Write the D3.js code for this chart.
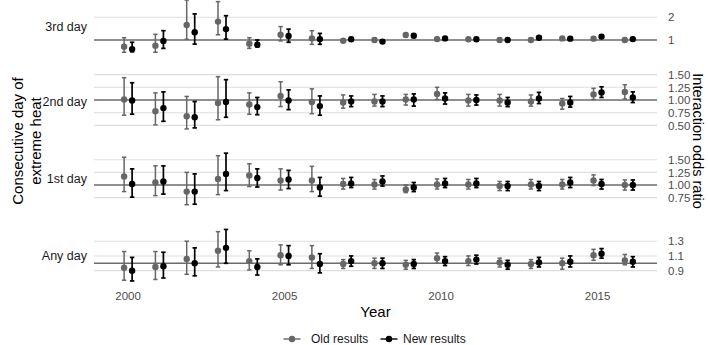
<!DOCTYPE html>
<html>
<head>
<meta charset="utf-8">
<script src="https://cdn.jsdelivr.net/npm/d3@7"></script>
<style>
  body { margin: 0; background: #fff; }
  svg { font-family: "Liberation Sans", Arial, sans-serif; }
</style>
</head>
<body>
<div id="chart"></div>
<script>
// Years on the x axis
const years = [2000, 2001, 2002, 2003, 2004, 2005, 2006, 2007, 2008,
  2009, 2010, 2011, 2012, 2013, 2014, 2015, 2016];

const seriesNames = ["Old results", "New results"];
const panelLabels = ["3rd day", "2nd day", "1st day", "Any day"];

// [estimate, lower, upper] per year
const old3rd = [
  [0.70, 0.46, 1.10], [0.75, 0.46, 1.25], [1.66, 1.03, 2.76], [1.81, 1.23, 2.69],
  [0.84, 0.63, 1.10], [1.23, 0.96, 1.59], [1.07, 0.81, 1.41], [0.97, 0.90, 1.05],
  [1.00, 0.93, 1.07], [1.22, 1.14, 1.30], [1.04, 0.97, 1.11], [1.03, 0.96, 1.10],
  [1.00, 0.93, 1.07], [1.00, 0.93, 1.07], [1.07, 1.00, 1.14], [1.06, 0.99, 1.13],
  [1.00, 0.93, 1.07]
];
const new3rd = [
  [0.60, 0.48, 0.90], [0.96, 0.63, 1.41], [1.34, 0.82, 2.15], [1.48, 1.04, 2.07],
  [0.79, 0.70, 1.00], [1.18, 0.90, 1.48], [1.04, 0.81, 1.29], [1.03, 0.96, 1.10],
  [0.93, 0.87, 1.00], [1.19, 1.12, 1.27], [1.07, 1.00, 1.14], [1.03, 0.96, 1.10],
  [1.00, 0.94, 1.06], [1.10, 1.03, 1.17], [1.06, 0.99, 1.13], [1.15, 1.08, 1.22],
  [1.04, 0.97, 1.11]
];
const old2nd = [
  [1.01, 0.70, 1.44], [0.78, 0.51, 1.14], [0.68, 0.43, 1.07], [0.94, 0.61, 1.46],
  [0.91, 0.72, 1.14], [1.08, 0.87, 1.36], [0.96, 0.73, 1.22], [0.95, 0.84, 1.10],
  [0.97, 0.88, 1.11], [1.01, 0.90, 1.11], [1.12, 1.01, 1.25], [0.99, 0.88, 1.11],
  [0.99, 0.88, 1.11], [0.97, 0.88, 1.10], [0.93, 0.82, 1.03], [1.11, 1.01, 1.23],
  [1.16, 1.02, 1.30]
];
const new2nd = [
  [0.99, 0.72, 1.34], [0.84, 0.58, 1.16], [0.66, 0.45, 0.97], [0.96, 0.66, 1.40],
  [0.86, 0.71, 1.05], [0.99, 0.81, 1.20], [0.88, 0.70, 1.08], [0.97, 0.87, 1.08],
  [0.97, 0.87, 1.08], [1.01, 0.88, 1.12], [1.03, 0.92, 1.14], [1.00, 0.90, 1.10],
  [0.95, 0.87, 1.05], [1.03, 0.93, 1.15], [0.95, 0.86, 1.07], [1.15, 1.05, 1.26],
  [1.05, 0.95, 1.16]
];
const old1st = [
  [1.17, 0.87, 1.55], [1.05, 0.79, 1.38], [0.87, 0.61, 1.25], [1.12, 0.81, 1.58],
  [1.19, 0.97, 1.42], [1.09, 0.90, 1.32], [1.09, 0.87, 1.37], [1.02, 0.92, 1.13],
  [1.01, 0.92, 1.11], [0.91, 0.85, 1.00], [1.01, 0.92, 1.12], [1.01, 0.92, 1.11],
  [0.98, 0.89, 1.07], [1.01, 0.92, 1.11], [1.01, 0.92, 1.11], [1.09, 0.99, 1.20],
  [1.00, 0.90, 1.10]
];
const new1st = [
  [1.02, 0.76, 1.32], [1.07, 0.82, 1.38], [0.87, 0.62, 1.22], [1.22, 0.89, 1.63],
  [1.14, 0.96, 1.32], [1.11, 0.93, 1.29], [0.95, 0.78, 1.15], [1.03, 0.95, 1.15],
  [1.07, 0.98, 1.18], [0.95, 0.87, 1.05], [1.03, 0.95, 1.13], [1.03, 0.95, 1.13],
  [0.98, 0.89, 1.07], [0.98, 0.89, 1.07], [1.05, 0.95, 1.15], [1.02, 0.92, 1.11],
  [1.00, 0.90, 1.10]
];
const oldAny = [
  [0.94, 0.77, 1.16], [0.95, 0.78, 1.16], [1.06, 0.85, 1.30], [1.17, 0.95, 1.43],
  [1.03, 0.91, 1.17], [1.11, 0.98, 1.25], [1.08, 0.93, 1.24], [0.99, 0.93, 1.05],
  [1.00, 0.93, 1.07], [0.98, 0.92, 1.04], [1.07, 1.00, 1.14], [1.03, 0.97, 1.10],
  [1.01, 0.95, 1.07], [0.99, 0.93, 1.05], [1.00, 0.92, 1.07], [1.11, 1.04, 1.19],
  [1.04, 0.98, 1.12]
];
const newAny = [
  [0.90, 0.76, 1.08], [0.96, 0.80, 1.15], [1.00, 0.83, 1.21], [1.21, 1.00, 1.46],
  [0.95, 0.84, 1.06], [1.10, 0.98, 1.24], [0.99, 0.87, 1.13], [1.03, 0.96, 1.10],
  [1.00, 0.93, 1.07], [0.99, 0.93, 1.05], [1.03, 0.97, 1.09], [1.05, 0.99, 1.11],
  [0.98, 0.92, 1.04], [1.01, 0.95, 1.08], [1.02, 0.95, 1.10], [1.13, 1.07, 1.20],
  [1.02, 0.95, 1.09]
];

// Right axis breaks per panel
const ticks3rd = [1, 2];
const ticks2nd = [0.5, 0.75, 1, 1.25, 1.5];
const ticks1st = [0.75, 1, 1.25, 1.5];
const ticksAny = [0.9, 1.1, 1.3];
const xTicks = [2000, 2005, 2010, 2015];

const width = 708;
const height = 345;
const plot = { left: 94, right: 657 };
const panelHeight = 58.5;

const panels = [
  { label: panelLabels[0], old: old3rd, new: new3rd, ticks: ticks3rd, fmt: d3.format("d"),
    top: -3, domain: [0.317, 2.894] },
  { label: panelLabels[1], old: old2nd, new: new2nd, ticks: ticks2nd, fmt: d3.format(".2f"),
    top: 72.5, domain: [0.389, 1.542] },
  { label: panelLabels[2], old: old1st, new: new1st, ticks: ticks1st, fmt: d3.format(".2f"),
    top: 149.5, domain: [0.545, 1.703] },
  { label: panelLabels[3], old: oldAny, new: newAny, ticks: ticksAny, fmt: d3.format(".1f"),
    top: 226.5, domain: [0.705, 1.50] }
];

const colors = { old: "#666666", new: "#000000" };
const dodge = 4;

const svg = d3.select("#chart")
  .append("svg")
  .attr("width", width)
  .attr("height", height);

const xScale = d3.scaleLinear()
  .domain([1998.91, 2016.9])
  .range([plot.left, plot.right]);

panels.forEach((p) => {
  const yScale = d3.scaleLinear()
    .domain(p.domain)
    .range([p.top + panelHeight, p.top]);

  const g = svg.append("g").attr("class", "panel");

  // grid lines
  g.selectAll(".grid")
    .data(p.ticks.filter((t) => t !== 1))
    .join("line")
    .attr("class", "grid")
    .attr("x1", plot.left)
    .attr("x2", plot.right)
    .attr("y1", (d) => yScale(d))
    .attr("y2", (d) => yScale(d))
    .attr("stroke", "#dedede")
    .attr("stroke-width", 1.1);

  // reference line at 1
  g.append("line")
    .attr("x1", plot.left)
    .attr("x2", plot.right)
    .attr("y1", yScale(1))
    .attr("y2", yScale(1))
    .attr("stroke", "#6b6b6b")
    .attr("stroke-width", 1.4);

  // right axis
  const axis = g.append("g")
    .attr("transform", `translate(${plot.right + 5},0)`)
    .call(d3.axisRight(yScale).tickValues(p.ticks).tickFormat(p.fmt).tickSize(0).tickPadding(6));
  axis.select(".domain").remove();
  axis.selectAll("text")
    .attr("fill", "#4d4d4d")
    .attr("font-size", 11.5)
    .attr("font-family", "\"Liberation Sans\", Arial, sans-serif");

  // strip label on the left
  g.append("text")
    .attr("x", 87)
    .attr("y", p.top + panelHeight / 2)
    .attr("dy", "0.35em")
    .attr("text-anchor", "end")
    .attr("fill", "#1a1a1a")
    .attr("font-size", 12.5)
    .text(p.label);

  ["old", "new"].forEach((key, i) => {
    const rows = p[key].map((v, j) => ({ year: years[j], est: v[0], lo: v[1], hi: v[2] }));
    const off = i === 0 ? -dodge : dodge;
    const sw = key === "old" ? 1.5 : 1.7;

    g.selectAll(`.bar-${key}`)
      .data(rows)
      .join("line")
      .attr("class", `bar-${key}`)
      .attr("x1", (d) => xScale(d.year) + off)
      .attr("x2", (d) => xScale(d.year) + off)
      .attr("y1", (d) => yScale(d.lo))
      .attr("y2", (d) => yScale(d.hi))
      .attr("stroke", colors[key])
      .attr("stroke-width", sw);

    ["lo", "hi"].forEach((end) => {
      g.selectAll(`.cap-${key}-${end}`)
        .data(rows)
        .join("line")
        .attr("class", `cap-${key}-${end}`)
        .attr("x1", (d) => xScale(d.year) + off - 2.2)
        .attr("x2", (d) => xScale(d.year) + off + 2.2)
        .attr("y1", (d) => yScale(d[end]))
        .attr("y2", (d) => yScale(d[end]))
        .attr("stroke", colors[key])
        .attr("stroke-width", sw);
    });

    g.selectAll(`.dot-${key}`)
      .data(rows)
      .join("circle")
      .attr("class", `dot-${key}`)
      .attr("cx", (d) => xScale(d.year) + off)
      .attr("cy", (d) => yScale(d.est))
      .attr("r", 3.2)
      .attr("fill", colors[key]);
  });
});

// x axis labels
svg.selectAll(".x-label")
  .data(xTicks)
  .join("text")
  .attr("class", "x-label")
  .attr("x", (d) => xScale(d))
  .attr("y", 296)
  .attr("dy", "0.35em")
  .attr("text-anchor", "middle")
  .attr("fill", "#4d4d4d")
  .attr("font-size", 11.5)
  .text((d) => d);

svg.append("text")
  .attr("x", (plot.left + plot.right) / 2)
  .attr("y", 312)
  .attr("dy", "0.35em")
  .attr("text-anchor", "middle")
  .attr("font-size", 15)
  .text("Year");

// left title, two lines
const leftTitle = svg.append("text")
  .attr("transform", "translate(26,141) rotate(-90)")
  .attr("text-anchor", "middle")
  .attr("font-size", 15);
leftTitle.append("tspan").attr("x", 0).attr("y", -3).text("Consecutive day of");
leftTitle.append("tspan").attr("x", 0).attr("y", 15).text("extreme heat");

// right title
svg.append("text")
  .attr("transform", "translate(698,141) rotate(90)")
  .attr("text-anchor", "middle")
  .attr("dy", "0.35em")
  .attr("font-size", 14.5)
  .text("Interaction odds ratio");

// legend
const legendItems = [
  { name: seriesNames[0], color: colors.old, x: 292, tx: 311 },
  { name: seriesNames[1], color: colors.new, x: 389, tx: 403 }
];
const legend = svg.append("g").attr("transform", "translate(0,339)");
legendItems.forEach((d) => {
  legend.append("line")
    .attr("x1", d.x - 8.5)
    .attr("x2", d.x + 8.5)
    .attr("stroke", d.color)
    .attr("stroke-width", 1.4);
  legend.append("circle")
    .attr("cx", d.x)
    .attr("r", 3.2)
    .attr("fill", d.color);
  legend.append("text")
    .attr("x", d.tx)
    .attr("dy", "0.35em")
    .attr("font-size", 12)
    .attr("fill", "#1a1a1a")
    .text(d.name);
});
</script>
</body>
</html>
